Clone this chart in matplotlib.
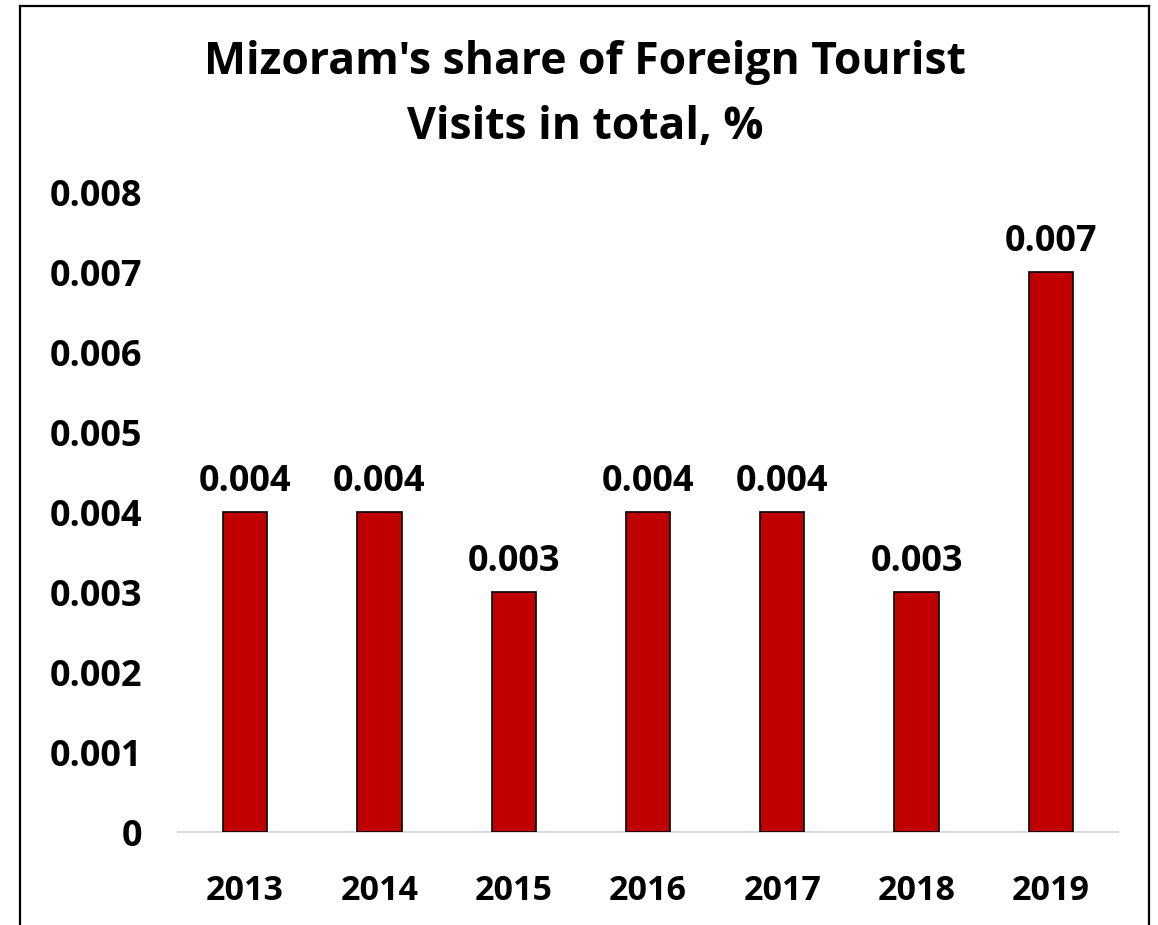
import matplotlib
matplotlib.use("Agg")
import matplotlib.pyplot as plt
from matplotlib.lines import Line2D

years = ["2013", "2014", "2015", "2016", "2017", "2018", "2019"]
share = [0.004, 0.004, 0.003, 0.004, 0.004, 0.003, 0.007]
yticks = [0, 0.001, 0.002, 0.003, 0.004, 0.005, 0.006, 0.007, 0.008]
ytick_labels = ["0", "0.001", "0.002", "0.003", "0.004", "0.005", "0.006", "0.007", "0.008"]
title = "Mizoram's share of Foreign Tourist\nVisits in total, %"

plt.rcParams['font.family'] = ['Open Sans', 'DejaVu Sans']
plt.rcParams['font.weight'] = 'bold'

W, H = 1158, 925
fig = plt.figure(figsize=(W/100, H/100), dpi=100)
ax = fig.add_axes([178/W, 1-832/H, 940/W, (832-192)/H])

x = list(range(len(years)))
ax.bar(x, share, width=0.33, color="#C00000", edgecolor="black", linewidth=1.2, zorder=3)
for xi, v in zip(x, share):
    ax.text(xi, v + 0.00015, f"{v:.3f}", ha="center", va="bottom", fontsize=26, fontweight="bold")

ax.set_xlim(-0.5, len(years) - 0.5)
ax.set_ylim(0, 0.008)
ax.set_yticks(yticks)
ax.set_yticklabels(ytick_labels, fontsize=26, fontweight="bold")
ax.set_xticks(x)
ax.set_xticklabels(years, fontsize=24.5, fontweight="bold")
ax.tick_params(axis="y", length=0, pad=26)
ax.tick_params(axis="x", length=0, pad=30)
for s in ["top", "right", "left"]:
    ax.spines[s].set_visible(False)
ax.spines["bottom"].set_color("#D9D9D9")
ax.spines["bottom"].set_linewidth(1.5)

fig.text(585/W, 1-95/H, title, ha="center", va="center", fontsize=32, fontweight="bold", linespacing=1.6)

# figure border (left, top, right)
lx, rx, ty = 19.5/W, 1148.5/W, 1-5.5/H
for xs, ys in [([lx, lx], [0, ty]), ([lx, rx], [ty, ty]), ([rx, rx], [ty, 0])]:
    fig.add_artist(Line2D(xs, ys, color="black", linewidth=1.6, transform=fig.transFigure))

fig.savefig("out.png", dpi=100, facecolor="white")
